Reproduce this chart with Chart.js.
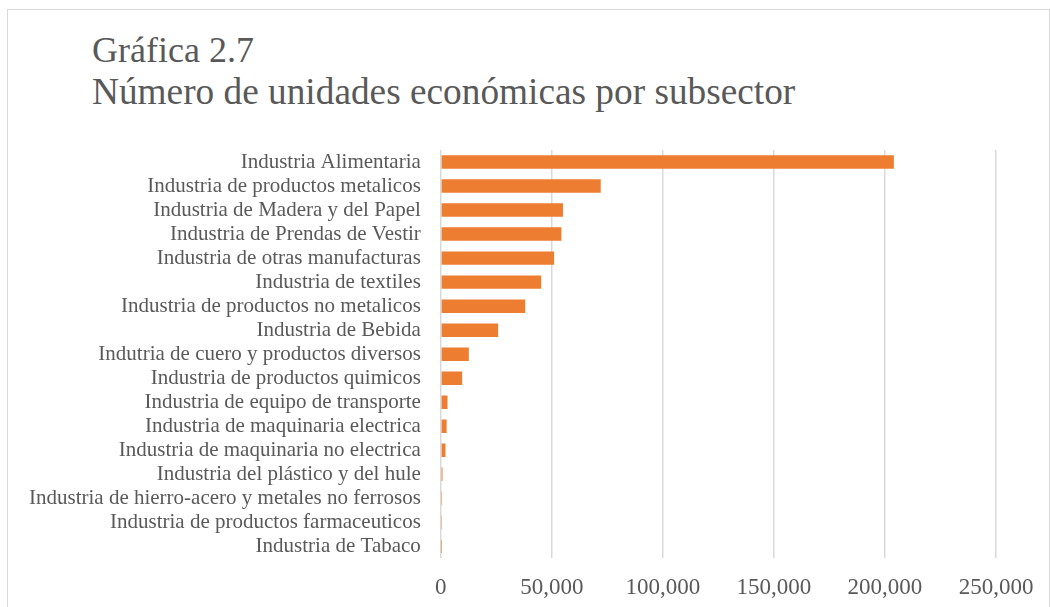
<!DOCTYPE html>
<html lang="es">
<head>
<meta charset="utf-8">
<title>Gráfica 2.7</title>
<script src="https://cdn.jsdelivr.net/npm/chart.js@4.4.1/dist/chart.umd.min.js"></script>
<style>
  html, body { margin: 0; padding: 0; background: #fff; }
  #marco {
    position: relative;
    width: 1050px;
    height: 607px;
    overflow: hidden;
  }
  #borde {
    position: absolute;
    left: 7px;
    top: 9px;
    width: 1041px;
    height: 700px;
    border: 1px solid #d9d9d9;
  }
  #titulo {
    position: absolute;
    left: 92px;
    top: 29px;
    font-family: "Liberation Serif", "Times New Roman", serif;
    font-size: 36px;
    line-height: 42px;
    color: #595959;
    white-space: nowrap;
  }
  #titulo .sub { font-size: 37.3px; }
  #grafica { position: absolute; left: 0; top: 0; }
</style>
</head>
<body>
<div id="marco">
  <div id="borde"></div>
  <div id="titulo">Gráfica 2.7<br><span class="sub">Número de unidades económicas por subsector</span></div>
  <!-- el lienzo es algo más alto que el marco; lo de abajo queda recortado -->
  <canvas id="grafica" width="1050" height="624"></canvas>
</div>

<script>
// Subsectores y número de unidades económicas
var subsectores = [
  'Industria Alimentaria',
  'Industria de productos metalicos',
  'Industria de Madera y del Papel',
  'Industria de Prendas de Vestir',
  'Industria de otras manufacturas',
  'Industria de textiles',
  'Industria de productos no metalicos',
  'Industria de Bebida',
  'Indutria de cuero y productos diversos',
  'Industria de productos quimicos',
  'Industria de equipo de transporte',
  'Industria de maquinaria electrica',
  'Industria de maquinaria no electrica',
  'Industria del plástico y del hule',
  'Industria de hierro-acero y metales no ferrosos',
  'Industria de productos farmaceuticos',
  'Industria de Tabaco'
];
var unidades = [204000, 72000, 55000, 54300, 51000, 45200, 38000, 25800, 12600, 9600, 3000, 2600, 2100, 750, 550, 500, 40];

// eje x
var ejeMin = 0;
var ejeMax = 250000;
var ejePaso = 50000;

var fuente = '"Liberation Serif", "Times New Roman", serif';
var gris = '#595959';

var ctx = document.getElementById('grafica').getContext('2d');
new Chart(ctx, {
  type: 'bar',
  data: {
    labels: subsectores,
    datasets: [{
      label: 'Unidades económicas',
      data: unidades,
      backgroundColor: '#ED7D31',
      borderWidth: 0,
      barPercentage: 1,
      categoryPercentage: 0.56
    }]
  },
  options: {
    indexAxis: 'y',
    responsive: false,
    animation: false,
    devicePixelRatio: 1,
    layout: {
      padding: { left: 9, right: 54, top: 150, bottom: 6 }
    },
    plugins: {
      legend: { display: false },
      title: { display: false },
      tooltip: { enabled: false }
    },
    scales: {
      x: {
        min: ejeMin,
        max: ejeMax,
        ticks: {
          stepSize: ejePaso,
          color: gris,
          padding: 16,
          maxRotation: 0,
          font: { family: fuente, size: 23 },
          callback: function(v) { return v.toLocaleString('en-US'); }
        },
        grid: {
          color: '#d9d9d9',
          lineWidth: 1.5,
          drawTicks: false,
          tickLength: 0
        },
        border: { display: false }
      },
      y: {
        ticks: {
          color: gris,
          padding: 20,
          autoSkip: false,
          font: { family: fuente, size: 21 }
        },
        grid: { display: false, drawTicks: false },
        border: { display: false }
      }
    }
  }
});
</script>
</body>
</html>
